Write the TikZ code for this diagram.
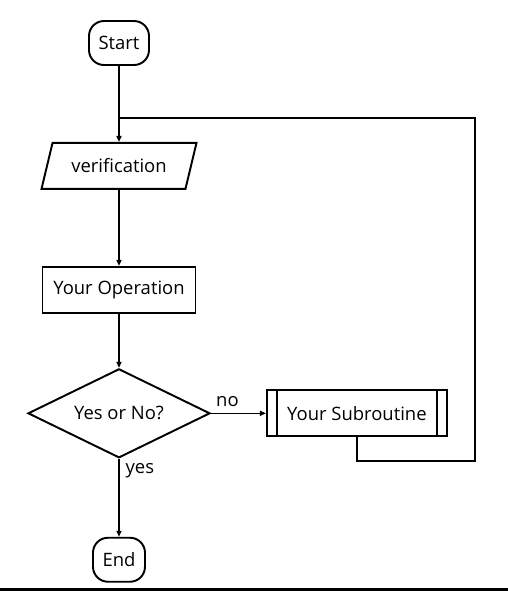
\documentclass[tikz,border=0pt]{standalone}
\usepackage{fontspec}
\setmainfont{Open Sans}
\usetikzlibrary{positioning,arrows.meta,shapes.geometric,calc}
\tikzset{
  term/.style={rectangle,rounded corners=0.3cm,draw=black,line width=1.1pt,align=center,minimum height=0.88cm,inner xsep=0.15cm},
  io/.style={trapezium,trapezium left angle=67,trapezium right angle=113,trapezium stretches body=true,draw=black,line width=1.1pt,minimum width=3.1cm,minimum height=0.92cm},
  proc/.style={rectangle,draw=black,line width=1.1pt,minimum width=3.06cm,minimum height=0.92cm},
  decide/.style={diamond,aspect=2,draw=black,line width=1.1pt,minimum width=3.64cm,minimum height=1.78cm,inner sep=0pt},
  subproc/.style={rectangle,draw=black,line width=1.1pt,minimum width=3.6cm,minimum height=0.92cm,
    path picture={\draw[line width=1.1pt] ([xshift=0.2cm]path picture bounding box.north west) -- ([xshift=0.2cm]path picture bounding box.south west)
      ([xshift=-0.2cm]path picture bounding box.north east) -- ([xshift=-0.2cm]path picture bounding box.south east);}},
  edge/.style={-{Triangle[length=1.2mm,width=1mm]},line width=0.9pt},
  link/.style={line width=0.9pt}
}
\begin{document}
\begin{tikzpicture}[node distance=1.5cm,font=\fontsize{10.5pt}{12.5pt}\selectfont]
  \useasboundingbox (-2.38,0.86) rectangle (7.78,-10.96);
  \node[term,minimum width=1.2cm] (start) at (0,0) {Start};
  \node[io,below=1.52cm of start] (verif) {verification};
  \node[proc,below=1.52cm of verif] (oper) {Your Operation};
  \node[decide,below=1.08cm of oper] (dec) {Yes or No?};
  \node[subproc,right=1.1cm of dec] (sub) {Your Subroutine};
  \node[term,minimum width=1.04cm,below=1.56cm of dec] (stop) {End};
  \coordinate[below=1.04cm of start.south] (join);
  \coordinate (loopx) at ($(sub.east)+(0.54,0)$);
  \draw[edge] (start) -- (verif);
  \draw[edge] (verif) -- (oper);
  \draw[edge] (oper) -- (dec);
  \draw[edge] (dec) -- node[above,pos=0.3]{no} (sub);
  \draw[edge] (dec) -- node[right,pos=0.15]{yes} (stop);
  \draw[link] (sub.south) -- ++(0,-0.48) -| (loopx |- join) -- (join);
  % strip along the bottom edge
  \fill[black] (-2.38,-10.89) rectangle (7.78,-10.96);
\end{tikzpicture}
\end{document}
